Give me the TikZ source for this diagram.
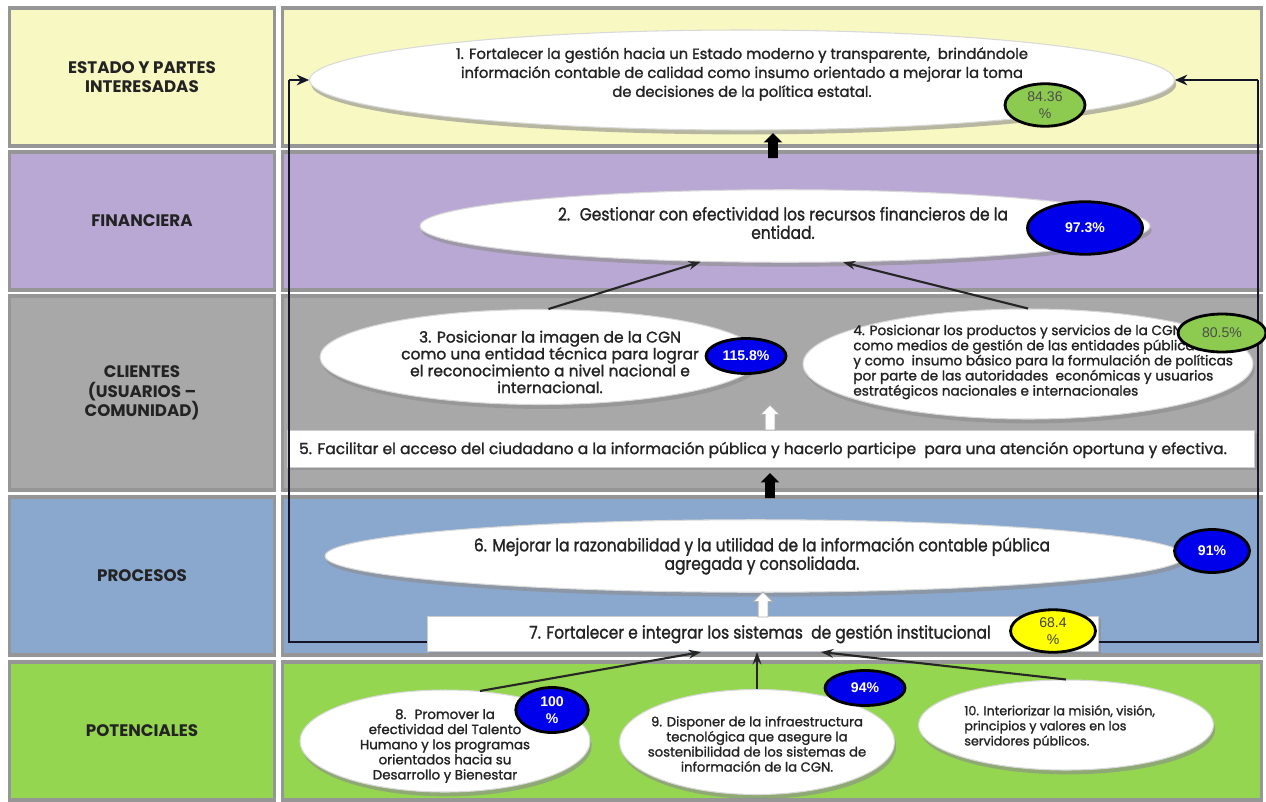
\documentclass[tikz,border=0pt]{standalone}
\usepackage{fontspec}
\setmainfont{Poppins}
\newfontfamily\gothic[FakeBold=1.4]{Poppins}
\newfontfamily\narrowgothic[FakeStretch=0.88,FakeBold=1.4]{Poppins}
\newfontfamily\arialfont{Liberation Sans}
\usetikzlibrary{shapes.geometric,shapes.arrows,shadows,arrows.meta}
\definecolor{estado}{RGB}{248,248,194}
\definecolor{financiera}{RGB}{186,168,212}
\definecolor{clientes}{RGB}{168,168,168}
\definecolor{procesos}{RGB}{138,168,206}
\definecolor{potenciales}{RGB}{148,214,80}
\definecolor{bevel}{RGB}{150,150,150}
\definecolor{badgegreen}{RGB}{140,202,80}
\definecolor{badgeblue}{RGB}{0,0,235}
\definecolor{badgeyellow}{RGB}{255,255,0}
\definecolor{texto}{RGB}{35,35,35}
\definecolor{framecolor}{RGB}{20,22,40}
\tikzstyle{band}=[draw=bevel, line width=2pt, inner sep=0pt, align=center, text=texto,
    font=\bfseries\fontsize{9.5}{11}\selectfont]
\tikzstyle{objellipse}=[ellipse, fill=white, draw=white!85!black, line width=0.6pt, inner sep=0pt,
    drop shadow={shadow xshift=1pt, shadow yshift=-2.5pt, fill=black!45, opacity=0.6}]
\tikzstyle{objbox}=[rectangle, fill=white, draw=white!80!black, line width=0.6pt, inner sep=0pt,
    drop shadow={shadow xshift=1.5pt, shadow yshift=-1.5pt, fill=black!45, opacity=0.6}]
\tikzstyle{objtext}=[inner sep=0pt, align=center, text=texto, font=\gothic\fontsize{8}{10.5}\selectfont]
\tikzstyle{narrowtext}=[objtext, font=\narrowgothic\fontsize{10}{10.5}\selectfont]
\tikzstyle{badge}=[ellipse, draw=black, line width=1.6pt, inner sep=0pt, align=center, fill=badgeblue,
    text=white, font=\arialfont\bfseries\fontsize{8}{9.5}\selectfont]
\tikzstyle{conn}=[line width=1.2pt, draw=black!85, -{Stealth[length=7pt,width=5pt]}]
\tikzstyle{frame}=[line width=1.3pt, draw=framecolor]
\tikzstyle{blockup}=[single arrow, shape border rotate=90, fill=black, inner sep=0.09cm,
    minimum height=0.5cm, single arrow head extend=0.09cm]
\begin{document}
\begin{tikzpicture}[x=0.02cm, y=-0.02cm]
\useasboundingbox[fill=white] (0,0) rectangle (1266,801);

\node[band, fill=estado, minimum width=5.3cm, minimum height=2.76cm] (lestado) at (142,77) {ESTADO Y PARTES\\INTERESADAS};
\node[band, fill=financiera, minimum width=5.3cm, minimum height=2.76cm] (lfinanciera) at (142,221) {FINANCIERA};
\node[band, fill=clientes, minimum width=5.3cm, minimum height=3.88cm] (lclientes) at (142,393) {CLIENTES\\(USUARIOS --\\COMUNIDAD)};
\node[band, fill=procesos, minimum width=5.3cm, minimum height=3.16cm] (lprocesos) at (142,576) {PROCESOS};
\node[band, fill=potenciales, minimum width=5.3cm, minimum height=2.76cm] (lpotenciales) at (142,731) {POTENCIALES};

\node[band, fill=estado, minimum width=19.58cm, minimum height=2.76cm] (pestado) at (772,77) {};
\node[band, fill=financiera, minimum width=19.58cm, minimum height=2.76cm] (pfinanciera) at (772,221) {};
\node[band, fill=clientes, minimum width=19.58cm, minimum height=3.88cm] (pclientes) at (772,393) {};
\node[band, fill=procesos, minimum width=19.58cm, minimum height=3.16cm] (pprocesos) at (772,576) {};
\node[band, fill=potenciales, minimum width=19.58cm, minimum height=2.76cm] (ppotenciales) at (772,731) {};

\node[objellipse, minimum width=17.3cm, minimum height=2cm] (obj1) at (742,80) {};
\node[objellipse, minimum width=14.6cm, minimum height=1.45cm] (obj2) at (785,226) {};
\node[objellipse, minimum width=8.8cm, minimum height=1.9cm] (obj3) at (540,357) {};
\node[objellipse, minimum width=9cm, minimum height=2.2cm] (obj4) at (1028,364) {};
\node[objbox, minimum width=19.34cm, minimum height=0.74cm] (obj5) at (771,449) {};
\node[objellipse, minimum width=17.2cm, minimum height=1.45cm] (obj6) at (755,556) {};
\node[objbox, minimum width=13.42cm, minimum height=0.7cm] (obj7) at (763,634) {};
\node[objellipse, minimum width=5.8cm, minimum height=2.04cm] (obj8) at (445,741) {};
\node[objellipse, minimum width=5.5cm, minimum height=2.1cm] (obj9) at (757,742) {};
\node[objellipse, minimum width=5.9cm, minimum height=1.8cm] (obj10) at (1066,725) {};

\coordinate (lbend) at (289,642);
\coordinate (ltop) at (289,80);
\coordinate (rbend) at (1258,642);
\coordinate (rtop) at (1258,80);
\draw[frame] (obj7.west |- lbend) -- (lbend) -- (ltop);
\draw[frame, -{Stealth[length=7pt,width=6pt]}] (ltop) -- (obj1.west);
\draw[frame] (obj7.east |- rbend) -- (rbend) -- (rtop);
\draw[frame, -{Stealth[length=7pt,width=6pt]}] (rtop) -- (obj1.east);

\node[objtext, font=\gothic\fontsize{8.4}{10.8}\selectfont] (t1) at (742,74)
    {1. Fortalecer la gestión hacia un Estado moderno y transparente,~ brindándole\\
     información contable de calidad como insumo orientado a mejorar la toma\\
     de decisiones de la política estatal.};
\node[narrowtext] (t2) at (783,223)
    {2.~ Gestionar con efectividad los recursos financieros de la\\ entidad.};
\node[objtext, font=\gothic\fontsize{8.8}{9.6}\selectfont] (t3) at (550,362)
    {3. Posicionar la imagen de la CGN\\ como una entidad técnica para lograr\\
     el reconocimiento a nivel nacional e\\ internacional.};
\node[objtext, align=left, anchor=west, font=\gothic\fontsize{7.75}{8.6}\selectfont] (t4) at (853,362)
    {4. Posicionar los productos y servicios de la CGN\\
     como medios de gestión de las entidades públicas\\
     y como~ insumo básico para la formulación de políticas\\
     por parte de las autoridades~ económicas y usuarios\\
     estratégicos nacionales e internacionales};
\node[objtext, font=\gothic\fontsize{8.8}{10}\selectfont] (t5) at (763,450)
    {5. Facilitar el acceso del ciudadano a la información pública y hacerlo participe~ para una atención oportuna y efectiva.};
\node[narrowtext] (t6) at (762,556)
    {6. Mejorar la razonabilidad y la utilidad de la información contable pública\\ agregada y consolidada.};
\node[narrowtext] (t7) at (760,634)
    {7. Fortalecer e integrar los sistemas~ de gestión institucional};
\node[objtext, font=\gothic\fontsize{7.6}{8.6}\selectfont] (t8) at (445,746)
    {8.~ Promover la\\ efectividad del Talento\\ Humano y los programas\\ orientados hacia su\\ Desarrollo y Bienestar};
\node[objtext, font=\gothic\fontsize{7.5}{8.6}\selectfont] (t9) at (757,744)
    {9. Disponer de la infraestructura\\ tecnológica que asegure la\\ sostenibilidad de los sistemas de\\ información de la CGN.};
\node[objtext, align=left, anchor=west, font=\gothic\fontsize{7.2}{8.6}\selectfont] (t10) at (964,727)
    {10. Interiorizar la misión, visión,\\ principios y valores en los\\ servidores públicos.};

\draw[conn] (obj3.80) -- (obj2.203);
\draw[conn] (obj4.north) -- (obj2.328);
\draw[conn] (obj8.55) -- ([xshift=-1.24cm]obj7.south);
\draw[conn] (obj9.north) -- (obj9.north |- obj7.south);
\draw[conn] (obj10.north) -- ([xshift=1.16cm]obj7.south);

\node[blockup] (up1) at (773,148) {};
\node[blockup, fill=white, draw=white!70!black, line width=0.5pt] (up2) at (770,420) {};
\node[blockup] (up3) at (770,488) {};
\node[blockup, fill=white, draw=white!70!black, line width=0.5pt] (up4) at (763,607) {};

\node[badge, fill=badgegreen, text=black!70, font=\arialfont\fontsize{8}{9.5}\selectfont,
    minimum width=1.6cm, minimum height=0.85cm] (b1) at (1045,105) {84.36\\\%};
\node[badge, minimum width=2.3cm, minimum height=1.05cm] (b2) at (1085,228) {97.3\%};
\node[badge, minimum width=1.6cm, minimum height=0.7cm] (b3) at (746,356) {115.8\%};
\node[badge, fill=badgegreen, text=black!70, font=\arialfont\fontsize{8}{9.5}\selectfont,
    minimum width=1.76cm, minimum height=0.76cm] (b4) at (1222,333) {80.5\%};
\node[badge, minimum width=1.5cm, minimum height=0.86cm] (b6) at (1212,551) {91\%};
\node[badge, fill=badgeyellow, text=black!75, font=\arialfont\fontsize{8}{9.5}\selectfont,
    minimum width=1.7cm, minimum height=0.85cm] (b7) at (1053,631) {68.4\\\%};
\node[badge, minimum width=1.45cm, minimum height=0.9cm] (b8) at (552,710) {100\\\%};
\node[badge, minimum width=1.6cm, minimum height=0.7cm] (b9) at (865,688) {94\%};
\end{tikzpicture}
\end{document}
